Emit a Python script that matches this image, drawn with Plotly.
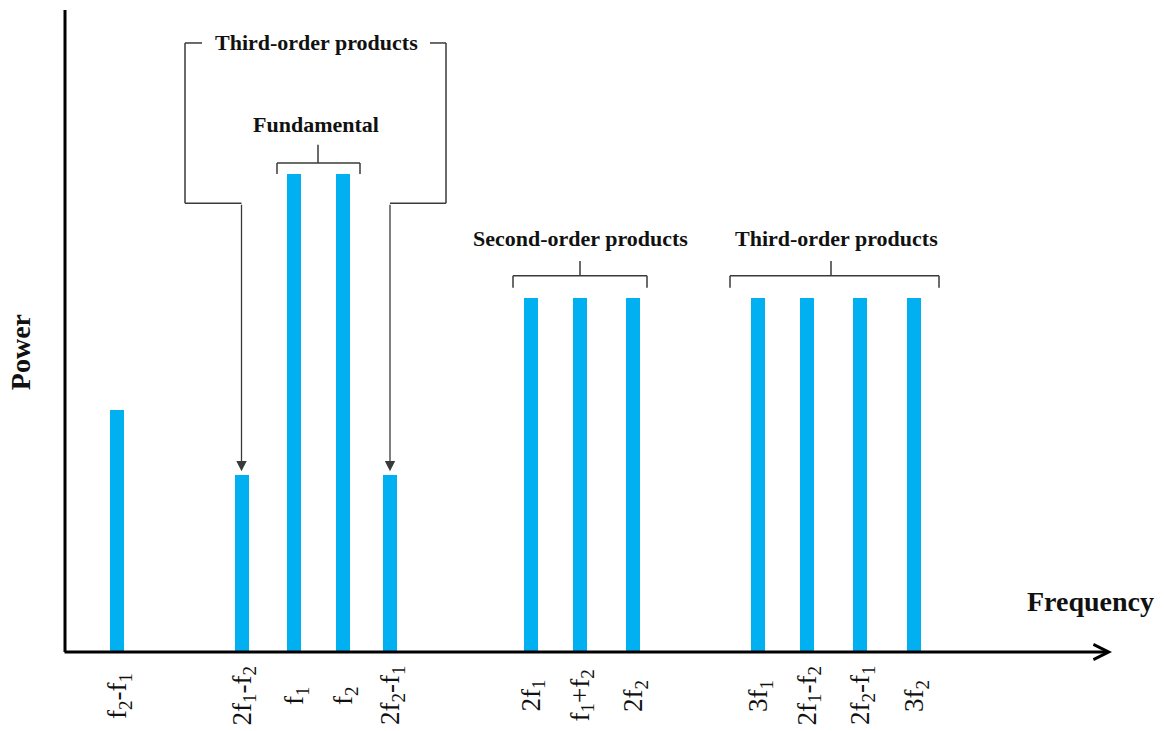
import plotly.graph_objects as go

# Spectrum lines: position along the frequency axis (arbitrary units) and relative power
freq_pos = [52, 176.5, 229, 278, 325, 465.5, 514.5, 568, 693, 741.5, 795, 849]
power = [0.506, 0.37, 1.0, 1.0, 0.37, 0.74, 0.74, 0.74, 0.74, 0.74, 0.74, 0.74]
labels = [
    "f<sub>2</sub>-f<sub>1</sub>", "2f<sub>1</sub>-f<sub>2</sub>", "f<sub>1</sub>", "f<sub>2</sub>",
    "2f<sub>2</sub>-f<sub>1</sub>", "2f<sub>1</sub>", "f<sub>1</sub>+f<sub>2</sub>", "2f<sub>2</sub>",
    "3f<sub>1</sub>", "2f<sub>1</sub>-f<sub>2</sub>", "2f<sub>2</sub>-f<sub>1</sub>", "3f<sub>2</sub>",
]

BAR = "#00B0F0"
LINE = "#3a3a3a"
SERIF = "Liberation Serif, Times New Roman, serif"
X_MAX = 1047
Y_MAX = 1.343

fig = go.Figure(go.Bar(x=freq_pos, y=power, width=14, marker=dict(color=BAR, line=dict(width=0)),
                       hoverinfo="skip"))

shapes = []


def seg(x0, y0, x1, y1, color=LINE, width=1.5):
    shapes.append(dict(type="line", xref="x", yref="y", x0=x0, y0=y0, x1=x1, y1=y1,
                       line=dict(color=color, width=width)))


def bracket(xl, xr, y_bar, y_tick_top, stem_x, stem_top):
    seg(xl, y_tick_top, xr, y_tick_top)
    seg(xl, y_tick_top, xl, y_bar)
    seg(xr, y_tick_top, xr, y_bar)
    seg(stem_x, y_tick_top, stem_x, stem_top)


# Brackets over the fundamental and the product groups
bracket(212, 295, 1.0, 1.023, 253, 1.061)
bracket(448, 582, 0.762, 0.787, 515, 0.818)
bracket(665, 874, 0.762, 0.787, 766, 0.818)

# Large bracket for the in-band third-order products
y_top, y_elbow = 1.274, 0.939
seg(137, y_top, 120, y_top)
seg(120, y_top, 120, y_elbow)
seg(120, y_elbow, freq_pos[1], y_elbow)
seg(365, y_top, 381, y_top)
seg(381, y_top, 381, y_elbow)
seg(381, y_elbow, freq_pos[4], y_elbow)

# Axes
shapes.append(dict(type="line", xref="paper", yref="paper", x0=0, y0=0, x1=0, y1=1,
                   line=dict(color="black", width=3)))

annotations = []
# Arrows down to the in-band intermodulation lines
for i in (1, 4):
    annotations.append(dict(x=freq_pos[i], y=power[i] + 0.008, xref="x", yref="y",
                            ax=freq_pos[i], ay=y_elbow, axref="x", ayref="y",
                            text="", showarrow=True, arrowhead=2, arrowsize=1.6,
                            arrowwidth=1.3, arrowcolor=LINE))
# Frequency axis with arrowhead
annotations.append(dict(x=X_MAX, y=0, xref="x", yref="y", ax=-2, ay=0, axref="x", ayref="y",
                        text="", showarrow=True, arrowhead=5, arrowsize=1.0, arrowwidth=3,
                        arrowcolor="black", standoff=0))

title_font = dict(family=SERIF, size=22, color="#111")
for txt, x, y in [("Third-order products", 251, y_top), ("Fundamental", 251, 1.1025),
                  ("Second-order products", 515, 0.866), ("Third-order products", 771, 0.866)]:
    annotations.append(dict(x=x, y=y, xref="x", yref="y", text=f"<b>{txt}</b>", showarrow=False,
                            font=title_font, xanchor="center", yanchor="middle"))

# Line labels under the axis
for x, lab in zip(freq_pos, labels):
    annotations.append(dict(x=x + 2, y=-0.0685, xref="x", yref="paper", text=lab, showarrow=False,
                            textangle=-90, xanchor="center", yanchor="middle",
                            font=dict(family=SERIF, size=27, color="#111")))

annotations.append(dict(x=-0.043, y=0.467, xref="paper", yref="paper", text="<b>Power</b>",
                        showarrow=False, textangle=-90, xanchor="center", yanchor="middle",
                        font=dict(family=SERIF, size=28, color="#111")))
annotations.append(dict(x=1025, y=0.079, xref="x", yref="paper", text="<b>Frequency</b>",
                        showarrow=False, xanchor="center", yanchor="middle",
                        font=dict(family=SERIF, size=28, color="#111")))

fig.update_layout(
    width=1164, height=731,
    margin=dict(l=65, r=52, t=10, b=79),
    paper_bgcolor="white", plot_bgcolor="white",
    showlegend=False,
    xaxis=dict(range=[0, X_MAX], showgrid=False, zeroline=False, showticklabels=False,
               ticks="", showline=False, fixedrange=True),
    yaxis=dict(range=[0, Y_MAX], showgrid=False, zeroline=False, showticklabels=False,
               ticks="", showline=False, fixedrange=True),
    shapes=shapes,
    annotations=annotations,
    bargap=0,
)

fig.write_html("out.html", config={"displayModeBar": False})
